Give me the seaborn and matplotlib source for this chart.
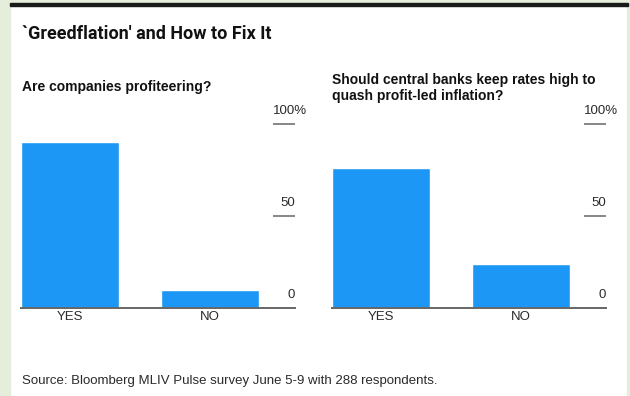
import matplotlib
matplotlib.use("Agg")
import matplotlib.pyplot as plt
import matplotlib.transforms as mtransforms
from matplotlib.patches import Rectangle
import seaborn as sns
import pandas as pd

# Survey answers (percent of respondents)
answers = ["YES", "NO"]
profiteering = [90, 10]
keep_rates_high = [76, 24]
y_ticks = [0, 50, 100]
y_tick_labels = ["0", "50", "100%"]

title = "`Greedflation' and How to Fix It"
question_left = "Are companies profiteering?"
question_right = "Should central banks keep rates high to\nquash profit-led inflation?"
source = "Source: Bloomberg MLIV Pulse survey June 5-9 with 288 respondents."

sns.set_theme(style="white")
plt.rcParams["font.family"] = ["Liberation Sans", "DejaVu Sans"]

BAR = "#1d97f5"
TEXT = "#2a2a2a"
AXIS = "#666666"

W, H = 630, 396
fig = plt.figure(figsize=(W / 100, H / 100), dpi=100)
fig.patch.set_facecolor("white")

# page frame: pale green margins and a dark rule along the top
green = "#e4eedb"
fig.patches.append(Rectangle((0, 0), 10 / W, 1, transform=fig.transFigure, color=green, zorder=0))
fig.patches.append(Rectangle((627 / W, 0), 3 / W, 1, transform=fig.transFigure, color=green, zorder=0))
fig.patches.append(Rectangle((0, 1 - 3 / H), 1, 3 / H, transform=fig.transFigure, color=green, zorder=0))
fig.patches.append(Rectangle((10 / W, 1 - 5.5 / H), 618 / W, 2.5 / H, transform=fig.transFigure, color="#1a1a1a", zorder=1))


def px_box(left, right, top, bottom):
    return [left / W, 1 - bottom / H, (right - left) / W, (bottom - top) / H]


def panel(rect, values):
    ax = fig.add_axes(rect)
    df = pd.DataFrame({"answer": answers, "share": values})
    sns.barplot(data=df, x="answer", y="share", order=answers, color=BAR,
                saturation=1, width=0.7, ax=ax)
    ax.set_xlim(-0.35, 1.607)
    ax.set_ylim(0, 100)
    ax.set_xlabel("")
    ax.set_ylabel("")
    for s in ["top", "left", "right"]:
        ax.spines[s].set_visible(False)
    ax.spines["bottom"].set_color(AXIS)
    ax.spines["bottom"].set_linewidth(1.4)
    ax.spines["bottom"].set_zorder(5)
    ax.tick_params(axis="x", length=0, pad=2, labelsize=9.5, labelcolor=TEXT)
    ax.yaxis.tick_right()
    ax.set_yticks([t for t in y_ticks if t > 0])
    ax.tick_params(axis="y", direction="in", length=16, width=1.1, color=AXIS,
                   labelright=False, labelleft=False)
    # value labels sit just above their tick; the percent sign hangs past the edge
    trans = mtransforms.blended_transform_factory(ax.transAxes, ax.transData)
    for t, lab in zip(y_ticks, y_tick_labels):
        dx = 8.5 if lab.endswith("%") else 0
        off = mtransforms.offset_copy(trans, fig=fig, x=dx, y=5, units="points")
        ax.text(1.0, t, lab, transform=off, ha="right", va="bottom",
                fontsize=9.5, color=TEXT, clip_on=False)
    ax.grid(False)
    return ax


panel(px_box(21, 295, 124, 308), profiteering)
panel(px_box(332, 606, 124, 308), keep_rates_high)

fig.text(22 / W, 1 - 34 / H, title, ha="left", va="center", fontsize=13,
         fontweight="bold", color="#111111", family=["Roboto", "DejaVu Sans"])
fig.text(22 / W, 1 - 87 / H, question_left, ha="left", va="center", fontsize=10,
         fontweight="bold", color="#111111")
fig.text(332 / W, 1 - 88 / H, question_right, ha="left", va="center", fontsize=10,
         fontweight="bold", color="#111111", linespacing=1.1)
fig.text(22 / W, 1 - 381 / H, source, ha="left", va="center", fontsize=9.5,
         color=TEXT)

fig.savefig("out.png", dpi=100, facecolor=fig.get_facecolor())
